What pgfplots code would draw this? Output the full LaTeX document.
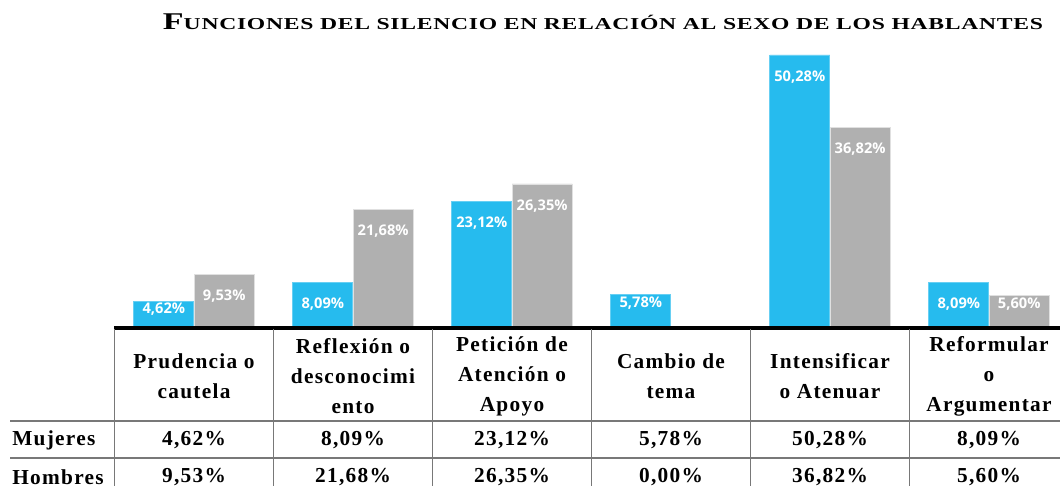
\documentclass[border=0pt]{standalone}
\usepackage{pgfplots}
\pgfplotsset{compat=1.18}
\usepackage{pgfplotstable}
\usepackage{fontspec}
\setmainfont{Liberation Serif}
\newfontfamily\labelfont{Open Sans}
\newfontfamily\tabfont[LetterSpace=6]{Liberation Serif}
\newfontfamily\titlefont[LetterSpace=3]{Liberation Serif}
\definecolor{mblue}{RGB}{38,187,238}
\definecolor{hgray}{RGB}{176,176,176}
\definecolor{tline}{RGB}{120,120,120}

\pgfplotstableread{
x y
0 4.62
1 8.09
2 23.12
3 5.78
4 50.28
5 8.09
}\mujeres
\pgfplotstableread{
x y
0 9.53
1 21.68
2 26.35
4 36.82
5 5.60
}\hombres

\begin{document}
\begin{tikzpicture}[x=0.75pt,y=0.75pt]
\useasboundingbox (0,0) rectangle (1060,486);
\clip (0,0) rectangle (1060,486);
\begin{axis}[
  at={(85.875pt,120pt)}, anchor=south west,
  x=119.25pt, y=4.0425pt,
  xmin=-0.5, xmax=5.5, ymin=0, ymax=56,
  axis lines=none,
  ybar, bar width=0.378,
  nodes near coords={\labelfont\bfseries\pgfmathprintnumber[fixed,fixed zerofill,precision=2,use comma,assume math mode=true]{\pgfplotspointmeta}\%},
  visualization depends on={ifthenelse(\thisrow{y}>=7.79,-16.5,-6.4) \as \dy},
  every node near coord/.append style={anchor=center, yshift=\dy pt, text=white, font=\fontsize{11}{12}\selectfont},
]
\addplot[fill=mblue, draw=mblue!70!white, line width=0.6pt, bar shift=-0.19] table[x=x,y=y] {\mujeres};
\addplot[fill=hgray, draw=white!88!black, line width=0.6pt, bar shift=0.19] table[x=x,y=y] {\hombres};
\end{axis}
% baseline
\draw[line width=2.4pt] (114,158) -- (1060,158);
% table lines
\begin{scope}[draw=tline, line width=1.2pt]
\draw (10,65) -- (1060,65);
\draw (10,28) -- (1060,28);
\foreach \k in {0,...,5} { \draw (114.5+159*\k,157) -- (114.5+159*\k,0); }
\end{scope}
% title
\node[anchor=base] at (603,456) {\resizebox{660pt}{\height}{\titlefont\bfseries\fontsize{18}{18}\selectfont F\fontsize{12.5}{12.5}\selectfont UNCIONES DEL SILENCIO EN RELACIÓN AL SEXO DE LOS HABLANTES}};
% header cells
\begin{scope}[every node/.style={anchor=center, align=center, font=\tabfont\bfseries\fontsize{16}{22.5}\selectfont, inner sep=0pt}]
\node at (194,110) {Prudencia o\\cautela};
\node at (353,110) {Reflexión o\\desconocimi\\ento};
\node at (512,110) {Petición de\\Atención o\\Apoyo};
\node at (671,110) {Cambio de\\tema};
\node at (830,110) {Intensificar\\o Atenuar};
\node at (989,110) {Reformular\\o\\Argumentar};
\node at (194,46) {4,62\%};
\node at (353,46) {8,09\%};
\node at (512,46) {23,12\%};
\node at (671,46) {5,78\%};
\node at (830,46) {50,28\%};
\node at (989,46) {8,09\%};
\node at (194,9) {9,53\%};
\node at (353,9) {21,68\%};
\node at (512,9) {26,35\%};
\node at (671,9) {0,00\%};
\node at (830,9) {36,82\%};
\node at (989,9) {5,60\%};
\node[anchor=west] at (12,46) {Mujeres};
\node[anchor=west] at (12,9) {Hombres};
\end{scope}
\end{tikzpicture}
\end{document}
